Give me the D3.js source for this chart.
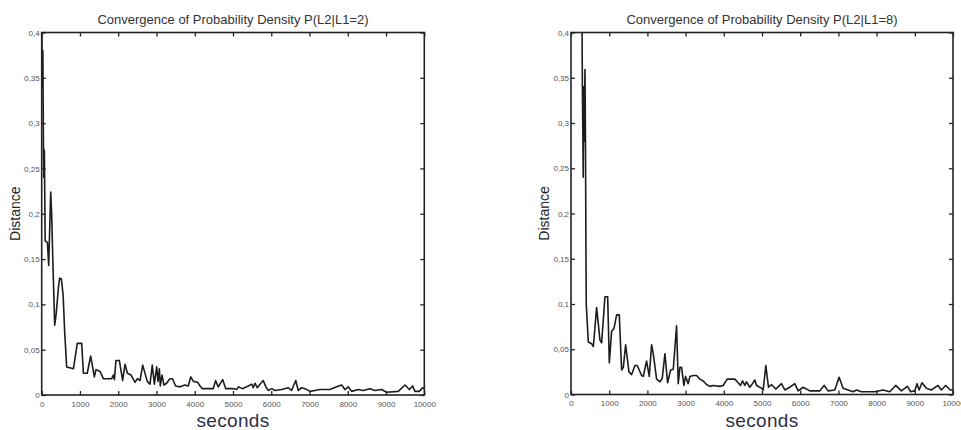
<!DOCTYPE html>
<html>
<head>
<meta charset="utf-8">
<script src="https://cdn.jsdelivr.net/npm/d3@7"></script>
<style>
  body { margin: 0; background: #fff; }
  svg { display: block; font-family: "Liberation Sans", Arial, sans-serif; }
</style>
</head>
<body>
<svg id="chart" width="961" height="430"></svg>
<script>
// Tick values and labels (decimal comma as in the original)
const xTicks = [0, 1000, 2000, 3000, 4000, 5000, 6000, 7000, 8000, 9000, 10000];
const yTicks = [0, 0.05, 0.1, 0.15, 0.2, 0.25, 0.3, 0.35, 0.4];
const yTickLabels = ["0", "0,05", "0,1", "0,15", "0,2", "0,25", "0,3", "0,35", "0,4"];

// Panel 1: P(L2|L1=2)
const timeA = [0, 20, 30, 45, 55, 70, 90, 150, 183, 235, 260, 290, 340, 380, 440, 470, 515, 560, 600, 653,
  830, 930, 1045, 1090, 1190, 1280, 1376, 1420, 1525, 1610, 1830, 1873, 1900, 1940, 2030, 2117, 2178, 2240,
  2335, 2440, 2500, 2570, 2640, 2760, 2830, 2890, 2945, 3005, 3040, 3075, 3100, 3145, 3195, 3265, 3350,
  3420, 3500, 3615, 3745, 3830, 3895, 3965, 4075, 4140, 4200, 4485, 4545, 4615, 4730, 4810, 5010, 5095,
  5150, 5245, 5400, 5490, 5530, 5575, 5635, 5690, 5790, 5860, 5925, 6010, 6100, 6270, 6445, 6530, 6640,
  6705, 6795, 6880, 7010, 7140, 7270, 7530, 7710, 7840, 7925, 8010, 8100, 8275, 8405, 8580, 8710, 8885,
  9015, 9320, 9495, 9610, 9695, 9755, 9870, 9955, 10000];
const distA = [0.40, 0.34, 0.38, 0.28, 0.24, 0.27, 0.17, 0.168, 0.143, 0.224, 0.20, 0.15, 0.077, 0.09, 0.12,
  0.129, 0.128, 0.11, 0.07, 0.031, 0.029, 0.057, 0.057, 0.024, 0.024, 0.043, 0.02, 0.028, 0.026, 0.018,
  0.018, 0.022, 0.017, 0.038, 0.038, 0.016, 0.034, 0.024, 0.022, 0.014, 0.018, 0.016, 0.033, 0.015,
  0.012, 0.033, 0.012, 0.031, 0.015, 0.029, 0.01, 0.022, 0.011, 0.013, 0.018, 0.018, 0.01, 0.009, 0.011,
  0.01, 0.02, 0.015, 0.014, 0.01, 0.007, 0.007, 0.016, 0.009, 0.017, 0.007, 0.007, 0.006, 0.009, 0.007,
  0.01, 0.012, 0.008, 0.013, 0.008, 0.011, 0.016, 0.009, 0.005, 0.007, 0.005, 0.006, 0.008, 0.005, 0.016,
  0.005, 0.008, 0.007, 0.004, 0.005, 0.006, 0.006, 0.009, 0.011, 0.006, 0.009, 0.004, 0.006, 0.005, 0.007,
  0.005, 0.006, 0.003, 0.004, 0.011, 0.006, 0.01, 0.004, 0.004, 0.008, 0.007];

// Panel 2: P(L2|L1=8)
const timeB = [290, 300, 310, 320, 335, 345, 366, 380, 392, 400, 453, 540, 585, 671, 758, 802, 889, 960,
  1003, 1064, 1125, 1195, 1264, 1325, 1370, 1430, 1517, 1587, 1674, 1735, 1848, 1892, 1979, 2049, 2110,
  2154, 2241, 2328, 2389, 2459, 2528, 2607, 2677, 2764, 2807, 2851, 2895, 2955, 2999, 3068, 3112, 3200,
  3287, 3374, 3461, 3548, 3635, 3722, 3897, 3984, 4089, 4290, 4377, 4438, 4490, 4551, 4595, 4682, 4752,
  4813, 4857, 4987, 5031, 5100, 5170, 5248, 5361, 5510, 5597, 5728, 5859, 5946, 6077, 6251, 6512, 6626,
  6730, 6905, 7018, 7123, 7253, 7384, 7471, 7602, 7951, 8169, 8343, 8500, 8648, 8806, 8893, 8997, 9059,
  9111, 9189, 9302, 9433, 9608, 9695, 9808, 9930, 10000];
const distB = [0.40, 0.33, 0.29, 0.24, 0.34, 0.28, 0.359, 0.27, 0.15, 0.099, 0.058, 0.056, 0.053, 0.096,
  0.06, 0.057, 0.108, 0.108, 0.035, 0.07, 0.073, 0.088, 0.088, 0.027, 0.03, 0.055, 0.025, 0.022, 0.032,
  0.032, 0.021, 0.02, 0.037, 0.02, 0.055, 0.045, 0.017, 0.014, 0.018, 0.045, 0.013, 0.027, 0.028, 0.076,
  0.012, 0.03, 0.03, 0.01, 0.02, 0.012, 0.02, 0.021, 0.021, 0.017, 0.015, 0.011, 0.009, 0.01, 0.009, 0.01,
  0.017, 0.017, 0.013, 0.01, 0.015, 0.01, 0.014, 0.008, 0.012, 0.016, 0.01, 0.007, 0.005, 0.032, 0.008,
  0.011, 0.006, 0.012, 0.005, 0.008, 0.012, 0.004, 0.008, 0.004, 0.004, 0.01, 0.004, 0.005, 0.019, 0.007,
  0.005, 0.003, 0.005, 0.003, 0.003, 0.005, 0.003, 0.01, 0.004, 0.009, 0.003, 0.004, 0.012, 0.005, 0.013,
  0.007, 0.005, 0.01, 0.005, 0.01, 0.005, 0.005];

const svg = d3.select("#chart");

function drawPanel(opts) {
    const { left, right, top, bottom, times, values, title } = opts;

    const x = d3.scaleLinear().domain([0, 10000]).range([left, right]);
    const y = d3.scaleLinear().domain([0, 0.4]).range([bottom, top]);

    const g = svg.append("g");
    const tickLen = 4;

    // Data line
    const pts = times.map((t, i) => ({ t: t, v: values[i] }));
    const line = d3.line().x(d => x(d.t)).y(d => y(d.v));
    g.append("path")
        .datum(pts)
        .attr("fill", "none")
        .attr("stroke", "#1c1c1c")
        .attr("stroke-width", 1.6)
        .attr("stroke-linejoin", "round")
        .attr("d", line);

    // Bottom axis (ticks inward)
    const xAxis = g.append("g")
        .attr("transform", `translate(0,${bottom})`)
        .call(d3.axisBottom(x).tickValues(xTicks).tickSizeInner(-tickLen).tickSizeOuter(0).tickPadding(6)
            .tickFormat(d3.format("d")));
    // Top axis ticks
    const xTop = g.append("g")
        .attr("transform", `translate(0,${top})`)
        .call(d3.axisTop(x).tickValues(xTicks).tickSizeInner(-tickLen).tickSizeOuter(0).tickFormat(""));
    // Left axis
    const yAxis = g.append("g")
        .attr("transform", `translate(${left},0)`)
        .call(d3.axisLeft(y).tickValues(yTicks).tickSizeInner(-tickLen).tickSizeOuter(0).tickPadding(2)
            .tickFormat((d, i) => yTickLabels[i]));
    // Right axis ticks
    const yRight = g.append("g")
        .attr("transform", `translate(${right},0)`)
        .call(d3.axisRight(y).tickValues(yTicks).tickSizeInner(-tickLen).tickSizeOuter(0).tickFormat(""));

    [xAxis, xTop, yAxis, yRight].forEach(a => {
        a.select(".domain").remove();
        a.selectAll(".tick line").attr("stroke", "#222").attr("stroke-width", 1.3);
        a.selectAll("text").attr("fill", "#555").style("font-size", "8px")
            .style("font-family", "'Liberation Sans Narrow', 'Liberation Sans', sans-serif");
    });

    // Box
    g.append("rect")
        .attr("x", left).attr("y", top)
        .attr("width", right - left).attr("height", bottom - top)
        .attr("fill", "none")
        .attr("stroke", "#222")
        .attr("stroke-width", 1.6);

    // Title
    g.append("text")
        .attr("x", (left + right) / 2)
        .attr("y", top - 9)
        .attr("text-anchor", "middle")
        .attr("fill", "#333")
        .style("font-size", "13px")
        .text(title);

    // Y label
    g.append("text")
        .attr("transform", `translate(${left - 22},${(top + bottom) / 2}) rotate(-90)`)
        .attr("text-anchor", "middle")
        .attr("fill", "#222")
        .style("font-size", "14px")
        .text("Distance");

    // X label
    g.append("text")
        .attr("x", (left + right) / 2)
        .attr("y", 427)
        .attr("text-anchor", "middle")
        .attr("fill", "#2a3045")
        .style("font-size", "19px")
        .style("letter-spacing", "0.3px")
        .text("seconds");
}

drawPanel({ left: 41.7, right: 424.3, top: 32.5, bottom: 395, times: timeA, values: distA,
    title: "Convergence of Probability Density P(L2|L1=2)" });
drawPanel({ left: 571, right: 953, top: 32.5, bottom: 394.5, times: timeB, values: distB,
    title: "Convergence of Probability Density P(L2|L1=8)" });
</script>
</body>
</html>
